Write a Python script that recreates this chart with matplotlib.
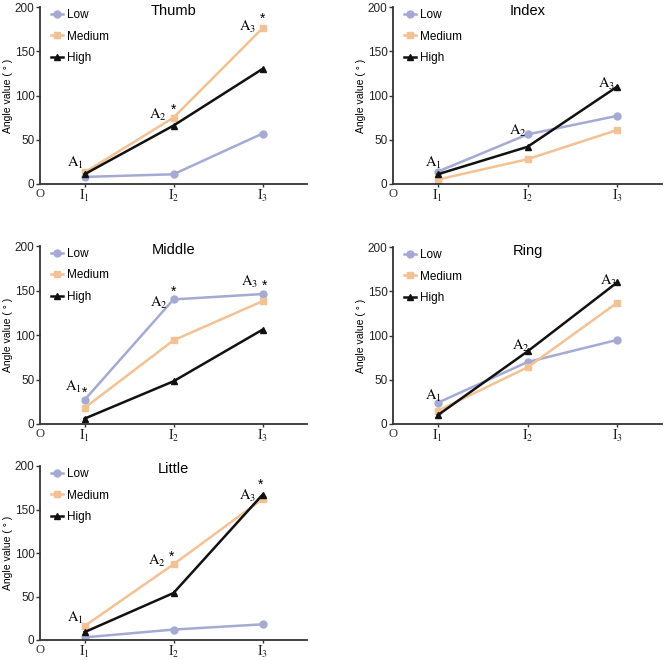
import numpy as np
import matplotlib.pyplot as plt

plt.rcParams['font.family'] = ['Liberation Sans', 'DejaVu Sans']
plt.rcParams['mathtext.fontset'] = 'stix'

# data
positions = [1, 2, 3]
tick_labels = [r'$\mathrm{I_1}$', r'$\mathrm{I_2}$', r'$\mathrm{I_3}$']
levels = ['Low', 'Medium', 'High']

thumb = {'Low': [8, 11, 57], 'Medium': [13, 75, 176], 'High': [11, 66, 130]}
index = {'Low': [14, 56, 77], 'Medium': [5, 28, 61], 'High': [11, 42, 110]}
middle = {'Low': [27, 140, 146], 'Medium': [18, 94, 138], 'High': [6, 48, 106]}
ring = {'Low': [24, 70, 95], 'Medium': [15, 64, 137], 'High': [10, 82, 160]}
little = {'Low': [3, 12, 18], 'Medium': [16, 87, 162], 'High': [9, 54, 167]}

# (label, x, y) for the A marks and stars
thumb_notes = [('A1', 0.9, 24), ('A2', 1.83, 78), ('A3', 2.83, 177)]
thumb_stars = [(2.0, 84), (3.0, 187)]
index_notes = [('A1', 0.95, 24), ('A2', 1.89, 60), ('A3', 2.88, 113)]
index_stars = []
middle_notes = [('A1', 0.88, 42), ('A2', 1.84, 136), ('A3', 2.85, 160)]
middle_stars = [(1.0, 35), (2.0, 148), (3.02, 155)]
ring_notes = [('A1', 0.95, 32), ('A2', 1.93, 88), ('A3', 2.9, 162)]
ring_stars = []
little_notes = [('A1', 0.9, 25), ('A2', 1.81, 91), ('A3', 2.83, 166)]
little_stars = [(1.98, 96), (2.98, 178)]

colors = {'Low': '#a4aad4', 'Medium': '#f4c192', 'High': '#111111'}
markers = {'Low': 'o', 'Medium': 's', 'High': '^'}

fig = plt.figure(figsize=(6.65, 6.6), dpi=100)
W, H = 665, 660


def make_axes(x0, x1, ytop, ybot):
    return fig.add_axes([x0 / W, 1 - ybot / H, (x1 - x0) / W, (ybot - ytop) / H])


def draw(ax, name, data, notes, stars):
    for lv in levels:
        ax.plot(positions, data[lv], color=colors[lv], marker=markers[lv],
                markersize=5, linewidth=1.8, label=lv)
    ax.set_xlim(0.5, 3.5)
    ax.set_ylim(0, 200)
    ax.set_yticks([0, 50, 100, 150, 200])
    ax.set_xticks(positions)
    ax.set_xticklabels(tick_labels, fontsize=10)
    ax.tick_params(axis='y', labelsize=8.5, length=3, width=1, pad=1,
                   colors='#333333', labelcolor='#222222')
    ax.tick_params(axis='x', length=2.5, width=1, pad=0, colors='#333333',
                   labelcolor='#222222')
    for s in ['top', 'right']:
        ax.spines[s].set_visible(False)
    for s in ['left', 'bottom']:
        ax.spines[s].set_linewidth(1.3)
        ax.spines[s].set_color('#333333')
    ax.set_ylabel('Angle value ( ° )', fontsize=7.5, labelpad=1)
    ax.text(2, 196, name, ha='center', va='center', fontsize=10.5)
    ax.text(0.5, -5, 'O', ha='center', va='top', fontsize=9,
            family='Liberation Serif', color='#333333')
    for lab, x, y in notes:
        ax.text(x, y, r'$\mathrm{A_%s}$' % lab[1], ha='center', va='center',
                fontsize=10.5)
    for x, y in stars:
        ax.text(x, y, '*', ha='center', va='center', fontsize=10)
    ax.legend(loc='upper left', bbox_to_anchor=(0.025, 1.015), frameon=False,
              fontsize=8.5, handlelength=1.0, handletextpad=0.3,
              labelspacing=0.8, borderaxespad=0, markerscale=1.0)


draw(make_axes(40, 307, 7, 184), 'Thumb', thumb, thumb_notes, thumb_stars)
draw(make_axes(393, 662, 7, 184), 'Index', index, index_notes, index_stars)
draw(make_axes(40, 307, 246, 424), 'Middle', middle, middle_notes, middle_stars)
draw(make_axes(393, 662, 247, 424), 'Ring', ring, ring_notes, ring_stars)
draw(make_axes(40, 307, 466, 640), 'Little', little, little_notes, little_stars)

fig.savefig('out.png', dpi=100)
